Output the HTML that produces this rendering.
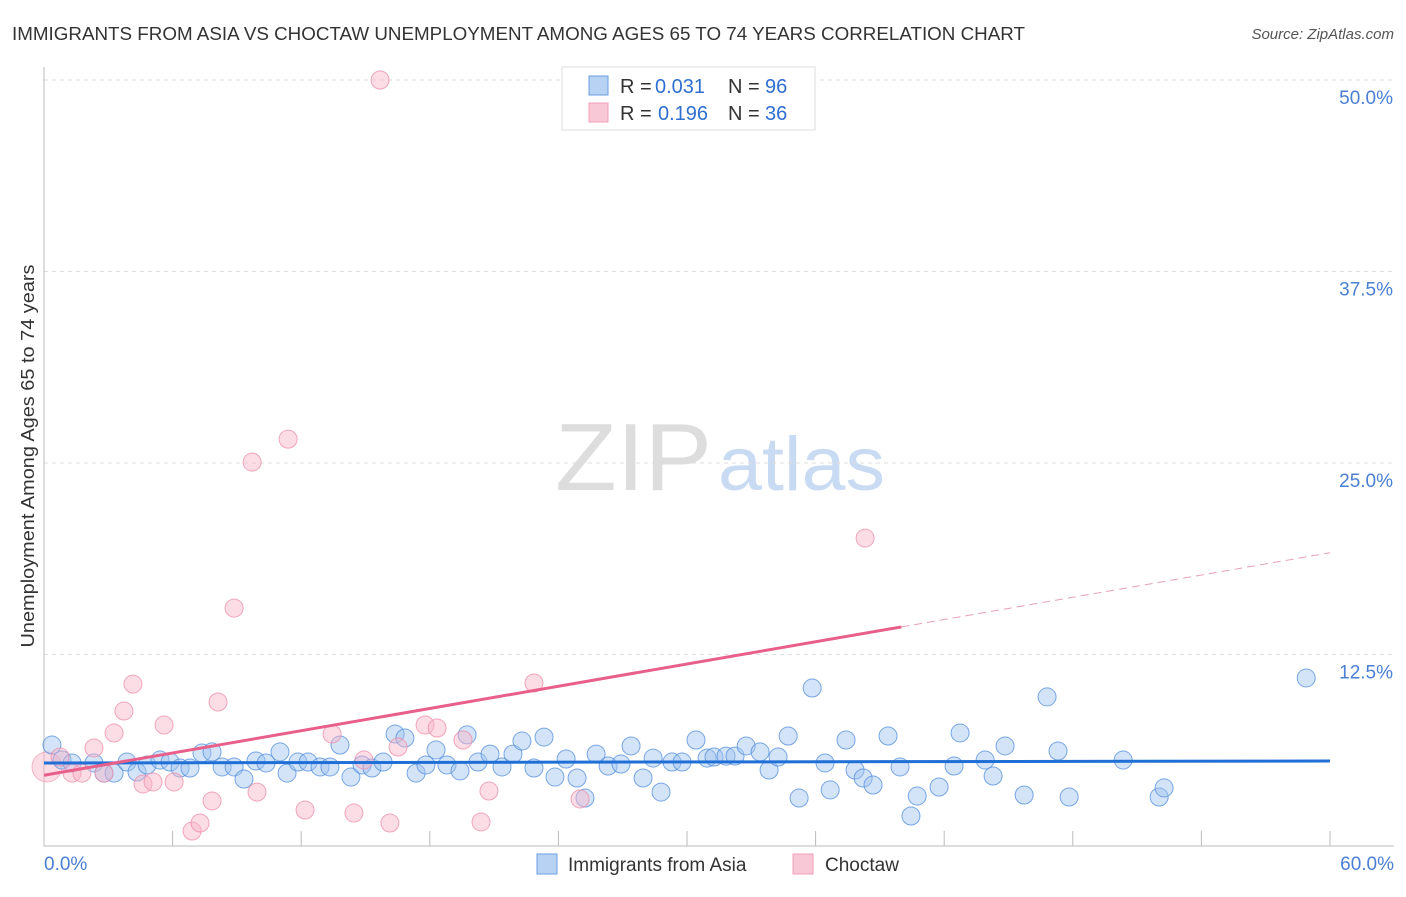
<!DOCTYPE html>
<html><head><meta charset="utf-8"><style>
body{margin:0;background:#fff;font-family:"Liberation Sans",sans-serif}
svg text{font-family:"Liberation Sans",sans-serif}
</style></head><body>
<svg id="c" width="1406" height="892">
<text x="12" y="40" font-size="18" fill="#333" textLength="1013" lengthAdjust="spacingAndGlyphs">IMMIGRANTS FROM ASIA VS CHOCTAW UNEMPLOYMENT AMONG AGES 65 TO 74 YEARS CORRELATION CHART</text>
<text x="1394" y="39" font-size="15" fill="#555" text-anchor="end" font-style="italic">Source: ZipAtlas.com</text>
<text x="555" y="490" font-size="96" fill="#ddd" font-family="Liberation Serif" textLength="157" lengthAdjust="spacingAndGlyphs">ZIP</text>
<text x="718" y="490" font-size="76" fill="#c9dbf2" textLength="167" lengthAdjust="spacingAndGlyphs">atlas</text>
<text transform="translate(34,456) rotate(-90)" font-size="18" fill="#333" text-anchor="middle" textLength="383" lengthAdjust="spacingAndGlyphs">Unemployment Among Ages 65 to 74 years</text>
<g id="grid"></g><g id="pts"></g><g id="lines"></g>
<text x="44" y="870" font-size="19" fill="#4a7fd4">0.0%</text>
<text x="1394" y="870" font-size="19" fill="#4a7fd4" text-anchor="end">60.0%</text>
<g>
<rect x="562" y="67" width="253" height="63" fill="#fff" stroke="#ddd"/>
<rect x="589" y="76" width="19" height="19" fill="#b8d2f4" stroke="#6a9ee0"/>
<text x="620" y="93" font-size="20" fill="#333">R =</text>
<text x="655" y="93" font-size="20" fill="#2f6fd0">0.031</text>
<text x="728" y="93" font-size="20" fill="#333">N =</text>
<text x="765" y="93" font-size="20" fill="#2f6fd0">96</text>
<rect x="589" y="103" width="19" height="19" fill="#f9c8d6" stroke="#f0a0b8"/>
<text x="620" y="120" font-size="20" fill="#333">R =</text>
<text x="658" y="120" font-size="20" fill="#2f6fd0">0.196</text>
<text x="728" y="120" font-size="20" fill="#333">N =</text>
<text x="765" y="120" font-size="20" fill="#2f6fd0">36</text>
</g>
<g>
<rect x="537" y="854" width="20" height="20" fill="#b8d2f4" stroke="#6a9ee0"/>
<text x="568" y="871" font-size="19" fill="#333">Immigrants from Asia</text>
<rect x="793" y="854" width="20" height="20" fill="#f9c8d6" stroke="#f0a0b8"/>
<text x="825" y="871" font-size="19" fill="#333">Choctaw</text>
</g>
</svg>
<script>
const yTicks=[12.5,25,37.5,50];
const yTickLabels=["12.5%","25.0%","37.5%","50.0%"];
const xTicks=[6,12,18,24,30,36,42,48,54,60];
const blueX=[0.37,0.84,1.31,2.33,2.80,3.27,3.87,4.34,4.81,5.41,5.88,6.35,6.81,7.37,7.84,8.31,8.87,9.33,9.89,10.36,11.01,11.34,11.85,12.32,12.88,13.34,13.81,14.32,14.84,15.30,15.82,16.38,16.84,17.36,17.82,18.29,18.80,19.41,19.74,20.25,20.81,21.37,21.88,22.30,22.86,23.33,23.84,24.36,24.87,25.24,25.76,26.32,26.92,27.39,27.95,28.42,28.79,29.30,29.77,30.42,30.94,31.26,31.82,32.24,32.76,33.41,33.83,34.25,34.72,35.23,35.84,36.44,36.68,37.42,37.84,38.22,38.68,39.38,39.94,40.45,40.74,41.76,42.46,42.74,43.91,44.28,44.84,45.73,46.80,47.31,47.83,50.35,52.03,52.26,58.89];
const blueY=[6.59,5.61,5.42,5.42,4.76,4.76,5.48,4.83,5.29,5.61,5.48,5.09,5.09,6.07,6.14,5.16,5.16,4.37,5.55,5.42,6.14,4.76,5.48,5.48,5.16,5.16,6.59,4.50,5.29,5.09,5.48,7.31,7.05,4.76,5.29,6.27,5.29,4.90,7.25,5.48,6.00,5.16,6.00,6.85,5.09,7.11,4.50,5.68,4.44,3.13,6.00,5.22,5.35,6.53,4.44,5.74,3.52,5.48,5.48,6.92,5.74,5.81,5.87,5.87,6.53,6.14,4.96,5.81,7.18,3.13,10.31,5.42,3.66,6.92,4.96,4.44,3.98,7.18,5.16,1.96,3.26,3.85,5.22,7.38,5.61,4.57,6.53,3.33,9.73,6.20,3.20,5.61,3.20,3.79,10.97];
const pinkX=[0.75,1.31,1.77,2.33,2.80,3.27,3.73,4.15,4.62,5.09,5.60,6.07,6.91,7.28,7.84,8.12,8.87,9.71,9.94,11.39,12.18,13.44,14.46,14.93,15.68,16.14,16.52,17.78,18.34,19.55,20.39,20.76,22.86,25.01,38.31];
const pinkY=[5.81,4.76,4.76,6.40,4.76,7.38,8.81,10.57,4.05,4.18,7.90,4.18,0.98,1.50,2.94,9.40,15.53,25.06,3.52,26.56,2.35,7.31,2.15,5.61,50.0,1.50,6.46,7.90,7.70,6.92,1.57,3.59,10.64,3.07,20.10];
const bigPink=[0.14,5.16];
const blueTrend=[5.42,5.55];
const pinkTrend=[4.62,0.242];
const NS="http://www.w3.org/2000/svg";
const X=v=>44+v/60*1286, Y=v=>846-v/12.5*191.5;
function mk(t,a,p){const e=document.createElementNS(NS,t);for(const k in a)e.setAttribute(k,a[k]);p.appendChild(e);return e;}
const g=document.getElementById('grid');
yTicks.forEach((t,i)=>{
 const l=mk('line',{x1:44,x2:1394,y1:Y(t),y2:Y(t),stroke:'#ddd','stroke-dasharray':'4,4'},g);
 
 
 const tx=mk('text',{x:1393,y:Y(t)+24,'font-size':19,fill:'#4a7fd4','text-anchor':'end'},g);tx.textContent=yTickLabels[i];
 
 
});
xTicks.forEach(t=>{const l=mk('line',{x1:X(t),x2:X(t),y1:846,y2:831,stroke:'#bbb'},g);
 
 });
let ax=mk('line',{x1:44,x2:44,y1:67,y2:846,stroke:'#bbb'},g);


ax=mk('line',{x1:44,x2:1394,y1:846,y2:846,stroke:'#bbb'},g);


const p=document.getElementById('pts');
let bp=mk('circle',{cx:X(bigPink[0]),cy:Y(bigPink[1]),r:15,fill:'rgba(248,180,200,0.45)',stroke:'rgba(236,140,170,0.6)'},p);


blueX.forEach((x,i)=>{const c=mk('circle',{cx:X(x),cy:Y(blueY[i]),r:9,fill:'rgba(160,196,240,0.45)',stroke:'rgba(80,140,220,0.75)'},p);
 
 });
pinkX.forEach((x,i)=>{const c=mk('circle',{cx:X(x),cy:Y(pinkY[i]),r:9,fill:'rgba(248,180,200,0.45)',stroke:'rgba(236,140,170,0.75)'},p);
 
 });
const L=document.getElementById('lines');
let t1=mk('line',{x1:X(0),y1:Y(blueTrend[0]),x2:X(60),y2:Y(blueTrend[1]),stroke:'#1f6fd6','stroke-width':3},L);


const pf=x=>pinkTrend[0]+pinkTrend[1]*x;
let t2=mk('line',{x1:X(0),y1:Y(pf(0)),x2:X(40),y2:Y(pf(40)),stroke:'#e8608a','stroke-width':3},L);


let t3=mk('line',{x1:X(40),y1:Y(pf(40)),x2:X(60),y2:Y(pf(60)),stroke:'#e8a0b8','stroke-width':1,'stroke-dasharray':'8,5'},L);


</script>
</body></html>
